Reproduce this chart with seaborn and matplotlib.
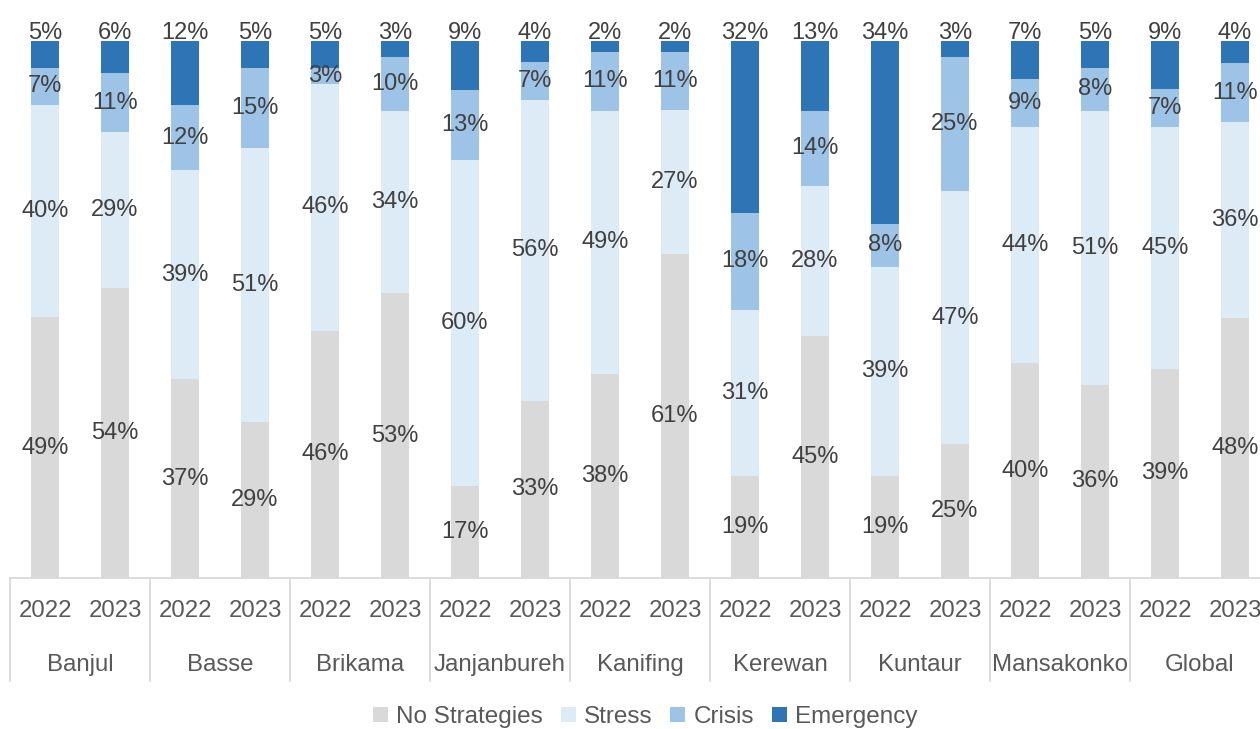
import numpy as np
import pandas as pd
import matplotlib.pyplot as plt
import seaborn as sns
from matplotlib.patches import Patch
from matplotlib.transforms import blended_transform_factory

# --- Style ---
sns.set_theme(style="white")
plt.rcParams['font.family'] = ['Liberation Sans', 'DejaVu Sans']

# --- Data (% of households) ---
regions = ["Banjul", "Basse", "Brikama", "Janjanbureh", "Kanifing",
           "Kerewan", "Kuntaur", "Mansakonko", "Global"]
years = ["2022", "2023"]

no_strategies = [49, 54, 37, 29, 46, 53, 17, 33, 38, 61, 19, 45, 19, 25, 40, 36, 39, 48]
stress = [40, 29, 39, 51, 46, 34, 60, 56, 49, 27, 31, 28, 39, 47, 44, 51, 45, 36]
crisis = [7, 11, 12, 15, 3, 10, 13, 7, 11, 11, 18, 14, 8, 25, 9, 8, 7, 11]
emergency = [5, 6, 12, 5, 5, 3, 9, 4, 2, 2, 32, 13, 34, 3, 7, 5, 9, 4]

layers = ["No Strategies", "Stress", "Crisis", "Emergency"]
colors = ["#D9D9D9", "#DDEBF7", "#9DC3E6", "#2E75B6"]

# --- Prepare ---
keys = [f"{r}|{y}" for r in regions for y in years]
df = pd.DataFrame({
    "key": keys,
    "No Strategies": no_strategies,
    "Stress": stress,
    "Crisis": crisis,
    "Emergency": emergency,
})
total = df[layers].sum(axis=1)
shares = df[layers].div(total, axis=0)
cum = shares.cumsum(axis=1)
plot_df = pd.concat([df[["key"]], cum.add_prefix("cum_")], axis=1)

# --- Figure ---
fig = plt.figure(figsize=(12.6, 7.29), dpi=100)
ax = fig.add_axes([10 / 1260, 151 / 729, 1.0, 537 / 729])

# draw cumulative totals from the top layer down so each layer overlays the next
for layer, color in reversed(list(zip(layers, colors))):
    sns.barplot(data=plot_df, x="key", y=f"cum_{layer}", order=keys,
                color=color, saturation=1, width=0.414, errorbar=None,
                linewidth=0, ax=ax)

ax.set_xlim(-0.5, len(keys) - 0.5)
ax.set_ylim(0, 1)

# value labels
label_color = "#404040"
for i in range(len(keys)):
    bottom = 0.0
    for layer in layers:
        h = shares.loc[i, layer]
        if layer == "Emergency":
            y = 1.015
        else:
            y = bottom + h / 2
        ax.text(i, y, f"{df.loc[i, layer]}%", ha="center", va="center",
                fontsize=17, color=label_color)
        bottom += h

# --- Axes styling ---
for side in ["top", "right", "left"]:
    ax.spines[side].set_visible(False)
ax.spines["bottom"].set_color("#D9D9D9")
ax.spines["bottom"].set_linewidth(1.3)
ax.set_yticks([])
ax.set_xlabel("")
ax.set_ylabel("")
ax.set_xticks(range(len(keys)))
ax.set_xticklabels([])
ax.tick_params(axis="x", length=0)

trans = blended_transform_factory(ax.transData, ax.transAxes)
tick_color = "#595959"
for i, k in enumerate(keys):
    ax.text(i, -0.062, k.split("|")[1], transform=trans, ha="center",
            va="center", fontsize=17.3, color=tick_color, clip_on=False)
for g, r in enumerate(regions):
    ax.text(2 * g + 0.5, -0.162, r, transform=trans, ha="center",
            va="center", fontsize=17.3, color=tick_color, clip_on=False)
for g in range(len(regions)):
    ax.plot([2 * g - 0.5, 2 * g - 0.5], [0, -0.192], transform=trans,
            color="#D9D9D9", lw=1.3, clip_on=False)

# --- Legend ---
handles = [Patch(facecolor=c, edgecolor="none", label=l) for l, c in zip(layers, colors)]
leg = fig.legend(handles=handles, loc="center", bbox_to_anchor=(0.512, 1 - 717 / 729),
                 ncol=4, frameon=False, fontsize=17.5, handlelength=0.62,
                 handleheight=0.62, handletextpad=0.33, columnspacing=0.74)
for t in leg.get_texts():
    t.set_color(tick_color)

fig.savefig("out.png", dpi=100)
